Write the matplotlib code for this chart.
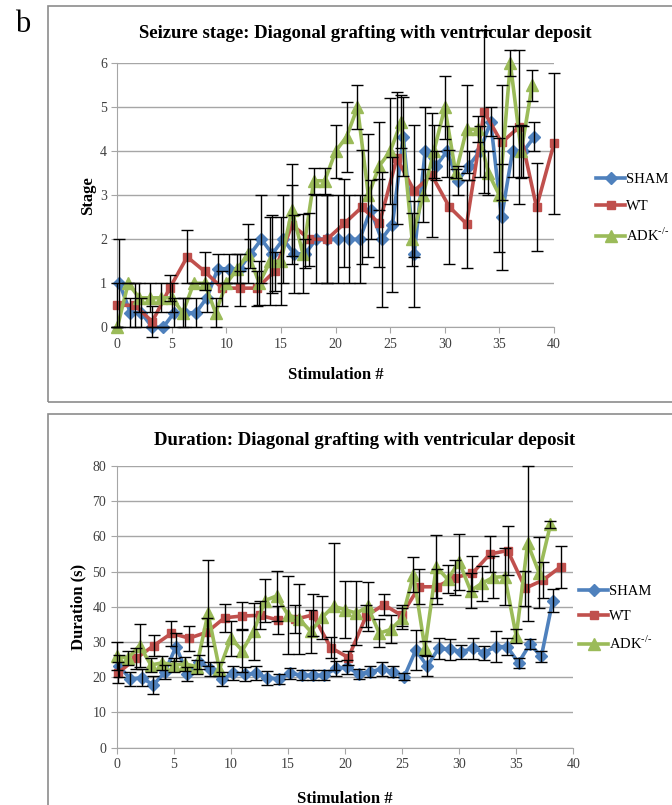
import numpy as np
import matplotlib
matplotlib.use('Agg')
import matplotlib.pyplot as plt
from matplotlib.patches import Rectangle

plt.rcParams['font.family'] = ['Liberation Serif', 'DejaVu Serif']
plt.rcParams['mathtext.fontset'] = 'custom'
plt.rcParams['mathtext.rm'] = 'Liberation Serif'

# stimulation numbers (x) for each group
stim = list(range(39))
sham_x = [s + 0.2 for s in stim]
wt_x_top = [k * 1.6 for k in range(26)]
wt_x_bot = [0.15 + k * 1.55 for k in range(26)]

# seizure stage
sham_stage = [1.0, .33, .33, 0, 0, .33, .33, .33, .67, 1.33, 1.33, 1.33, 1.67, 2.0, 1.67, 2.0,
              1.67, 1.67, 2.0, 2.0, 2.0, 2.0, 2.0, 2.67, 2.0, 2.33, 4.33, 1.67, 4.0, 3.67, 4.0,
              3.33, 3.67, 4.0, 4.67, 2.5, 4.0, 4.0, 4.33]
sham_stage_err = [1.0, .33, .33, 0, 0, .33, .33, .33, .33, .33, .33, .33, .33, 1.0, .88, 1.0,
                  .88, .33, 1.0, 1.0, 1.0, 1.0, 1.0, .67, 1.53, 1.53, .9, 1.2, 1.0, .33, .58,
                  .33, .33, .58, .33, 1.2, .58, .58, .33]
wt_stage = [0.5, 0.5, 0.13, 0.89, 1.6, 1.27, 0.89, 0.89, 0.89, 1.27, 2.33, 2.0, 2.0, 2.36,
            2.73, 2.36, 3.84, 3.1, 3.46, 2.74, 2.35, 4.9, 4.2, 4.55, 2.73, 4.18]
wt_stage_err = [0.5, 0.5, 0.35, 0.3, 0.6, 0.43, 0.4, 0.4, 0.4, 0.45, 0.9, 0.6, 1.0, 1.0,
                1.3, 1.0, 1.5, 1.5, 1.4, 1.3, 1.0, 1.85, 1.3, 1.75, 1.0, 1.6]
adk_stage = [0, 1, .67, .67, .67, .67, .33, 1, 1, .33, 1, 1.33, 1.67, 1, 1.5, 1.5, 2.67, 1.67,
             3.33, 3.33, 4, 4.33, 5, 3, 3.67, 4, 4.67, 2, 3, 4, 5, 3.5, 4.5, 4.5, 3.5, 3, 6, 4, 5.5]
adk_stage_err = [0, 0, .33, .33, .33, .33, .33, 0, 0, .33, 0, .33, .67, .5, 1.0, 1.0, 1.05, .9,
                 .3, .3, .6, .8, .5, 1.4, 1.0, 1.2, .6, .6, .6, .6, .72, .1, 1.0, .3, .5, 1.3,
                 .3, .6, .35]

# seizure duration (s)
sham_dur = [23.2, 19.5, 19.9, 17.8, 21.4, 28.7, 20.9, 24.4, 22.3, 19.5, 21.1, 20.9, 21.1, 19.9,
            19.5, 21.1, 20.6, 20.6, 20.6, 22.5, 23.0, 20.9, 21.6, 22.3, 21.6, 20.2, 27.7, 23.2,
            28.2, 27.9, 27.3, 28.2, 27.0, 28.7, 28.7, 24.1, 29.4, 25.9, 41.8]
sham_dur_err = [3, 2, 2.5, 2.5, 2, 4, 2, 2, 2, 2, 2, 2, 2, 2, 1.5, 1.5, 1.5, 1.5, 1.5, 2, 2,
                1.5, 1.5, 2, 1.5, 1, 5.7, 2.7, 3, 3, 2, 3, 2, 4.4, 2.5, 1.5, 1.5, 1.5, 3.2]
wt_dur = [21.3, 25.4, 29.0, 32.5, 31.1, 32.8, 36.9, 37.4, 37.6, 36.3, 36.5, 37.7, 28.4, 25.6,
          37.4, 40.6, 37.6, 45.7, 45.7, 48.3, 49.5, 55.0, 56.0, 45.3, 47.6, 51.4]
wt_dur_err = [3, 3, 3, 3.5, 3.5, 4, 4, 4, 4, 4, 4, 6, 3, 2, 3, 3, 3, 5, 5, 5, 5, 5, 7, 5, 5, 6]
adk_dur = [26.0, 25.4, 29.0, 23.5, 24.1, 23.5, 23.8, 23.0, 38.2, 22.3, 31.1, 27.6, 33.0, 41.8,
           43.1, 37.7, 36.5, 33.0, 37.0, 40.2, 39.2, 38.2, 40.1, 32.5, 33.6, 36.7, 49.1, 28.2,
           51.4, 47.8, 52.8, 44.6, 46.7, 48.4, 48.6, 31.7, 58.0, 49.7, 63.4]
adk_dur_err = [4, 2, 6, 2, 2, 2, 2, 2, 15, 2, 5, 6, 8, 6, 7, 11, 10, 6, 6, 18, 8, 9, 7, 4, 4,
               3, 5, 2, 9, 4, 8, 5, 5, 6, 8, 2, 22, 10, 1]

labels = ['SHAM', 'WT', r'ADK$^{\text{-/-}}$']
colors = ['#4F81BD', '#C0504D', '#9BBB59']
markers = ['D', 's', '^']
msizes = [6.5, 6, 8.5]

fig = plt.figure(figsize=(6.72, 8.05), dpi=100)

# chart area borders (cut at right / bottom like the original)
fig.patches.append(Rectangle((48 / 672, 1 - 402 / 805), 1.0, 396 / 805, transform=fig.transFigure,
                             fill=False, edgecolor='#8c8c8c', lw=1.2))
fig.patches.append(Rectangle((48 / 672, -0.2), 1.0, 0.2 + 1 - 414 / 805, transform=fig.transFigure,
                             fill=False, edgecolor='#8c8c8c', lw=1.2))
fig.text(15 / 672, 1 - 25 / 805, 'b', fontsize=22, va='center', ha='left')


def style_axes(ax, ymax, ystep):
    ax.set_xlim(0, 40)
    ax.set_ylim(0, ymax)
    ax.set_xticks(range(0, 41, 5))
    ax.set_yticks(np.arange(0, ymax + 0.1, ystep))
    ax.grid(axis='y', color='#a6a6a6', lw=1)
    ax.set_axisbelow(True)
    for s in ['top', 'right']:
        ax.spines[s].set_visible(False)
    for s in ['left', 'bottom']:
        ax.spines[s].set_color('#a6a6a6')
    ax.tick_params(colors='#a6a6a6', labelcolor='#404040', labelsize=10, length=4, direction='out')


def draw(ax, xs, ys, errs):
    handles = []
    for x, y, e, c, m, ms, lab in zip(xs, ys, errs, colors, markers, msizes, labels):
        eb = ax.errorbar(x, y, yerr=e, fmt='none', ecolor='black', elinewidth=1, capsize=4.5,
                         capthick=1, zorder=4)
        for art in eb.get_children():
            art.set_clip_on(False)
        h, = ax.plot(x, y, color=c, lw=2.6, marker=m, markersize=ms, label=lab, zorder=3,
                     clip_on=False)
        handles.append(h)
    return handles


ax1 = fig.add_axes([117.3 / 672, 1 - 327.3 / 805, 436.7 / 672, 264 / 805])
style_axes(ax1, 6, 1)
h = draw(ax1, [sham_x, wt_x_top, stim], [sham_stage, wt_stage, adk_stage],
         [sham_stage_err, wt_stage_err, adk_stage_err])
fig.text(365 / 672, 1 - 33 / 805, 'Seizure stage: Diagonal grafting with ventricular deposit',
         fontsize=13.5, fontweight='bold', ha='center', va='center')
ax1.set_xlabel('Stimulation #', fontsize=12, fontweight='bold', labelpad=12)
ax1.set_ylabel('Stage', fontsize=12, fontweight='bold', labelpad=3)
ax1.legend(h, labels, loc='center left', bbox_to_anchor=(1.066, 0.45), frameon=False,
           fontsize=10.5, handlelength=2.0, handletextpad=0.05, labelspacing=0.95)

ax2 = fig.add_axes([116.7 / 672, 1 - 747.7 / 805, 456.6 / 672, 281.7 / 805])
style_axes(ax2, 80, 10)
h = draw(ax2, [sham_x, wt_x_bot, stim], [sham_dur, wt_dur, adk_dur],
         [sham_dur_err, wt_dur_err, adk_dur_err])
fig.text(365 / 672, 1 - 440 / 805, 'Duration: Diagonal grafting with ventricular deposit',
         fontsize=13.5, fontweight='bold', ha='center', va='center')
ax2.set_xlabel('Stimulation #', fontsize=12, fontweight='bold', labelpad=14)
ax2.set_ylabel('Duration (s)', fontsize=12, fontweight='bold', labelpad=4)
ax2.legend(h, labels, loc='center left', bbox_to_anchor=(0.984, 0.46), frameon=False,
           fontsize=10.5, handlelength=2.0, handletextpad=0.05, labelspacing=0.8)

fig.savefig('out.png', dpi=100)
